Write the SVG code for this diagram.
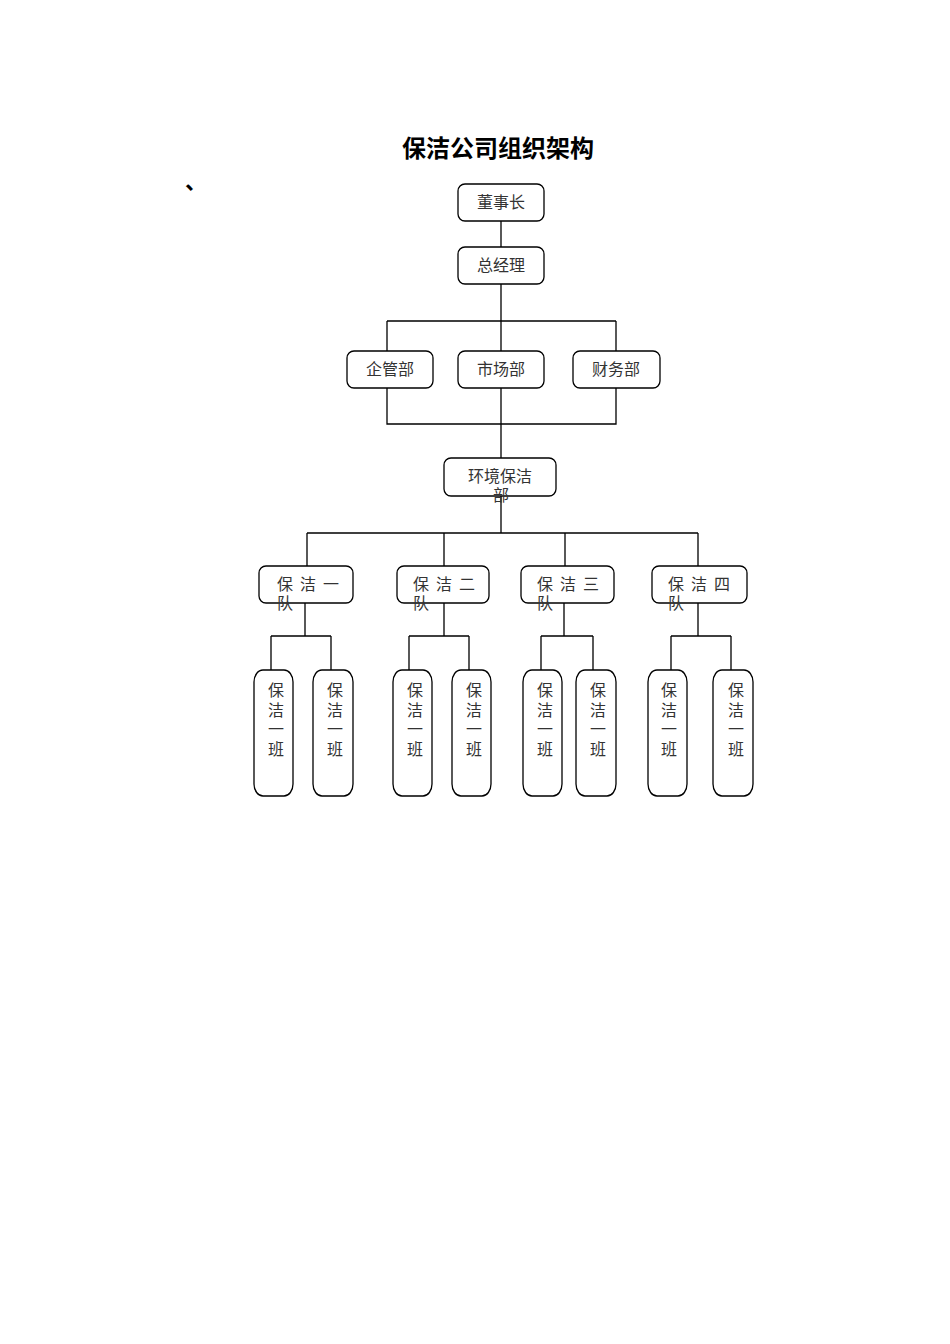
<svg xmlns="http://www.w3.org/2000/svg" width="950" height="1344" viewBox="0 0 950 1344">
<style>
.bg{fill:#fff}
.box{fill:#fff;stroke:#000;stroke-width:1.3}
.ln{fill:none;stroke:#000;stroke-width:1.3}
.t{font-family:"Noto Sans CJK SC","Liberation Sans",sans-serif;font-size:16px;fill:#333}
.c{text-anchor:middle}
.title{font-family:"Noto Sans CJK SC","Liberation Sans",sans-serif;font-size:24px;font-weight:bold;fill:#000;text-anchor:middle}
</style>
<rect class="bg" x="0" y="0" width="950" height="1344"/>
<text class="title" x="498" y="157">保洁公司组织架构</text>
<text x="185" y="189" style="font-family:'Noto Sans CJK SC',sans-serif;font-size:22px;font-weight:bold;fill:#000">、</text>
<g id="connectors">
<path class="ln" d="M501 221V247M501 284V458M387 321H616M387 321V351M616 321V351M387 388V424H616V388M501 496V533M307 533H698M307 533V566M444 533V566M565 533V566M698 533V566"/>
<path class="ln" d="M305 603V636M271 636H331M271 636V670M331 636V670"/>
<path class="ln" d="M444 603V636M409 636H469M409 636V670M469 636V670"/>
<path class="ln" d="M564 603V636M541 636H593M541 636V670M593 636V670"/>
<path class="ln" d="M698 603V636M671 636H731M671 636V670M731 636V670"/>
</g>
<g id="n-chairman"><rect class="box" x="458" y="184" width="86" height="37" rx="7"/><text class="t c" x="501" y="208">董事长</text></g>
<g id="n-gm"><rect class="box" x="458" y="247" width="86" height="37" rx="7"/><text class="t c" x="501" y="271">总经理</text></g>
<g id="n-qg"><rect class="box" x="347" y="351" width="86" height="37" rx="7"/><text class="t c" x="390" y="375">企管部</text></g>
<g id="n-sc"><rect class="box" x="458" y="351" width="86" height="37" rx="7"/><text class="t c" x="501" y="375">市场部</text></g>
<g id="n-cw"><rect class="box" x="573" y="351" width="87" height="37" rx="7"/><text class="t c" x="616" y="375">财务部</text></g>
<g id="n-env"><rect class="box" x="444" y="458" width="112" height="38" rx="7"/><text class="t c" x="500" y="482">环境保洁</text><text class="t c" x="501" y="501">部</text></g>
<g id="n-team1"><rect class="box" x="259" y="566" width="94" height="37" rx="7"/><text class="t" x="277" y="590" letter-spacing="7">保洁一</text><text class="t" x="277" y="609">队</text></g>
<g id="n-team2"><rect class="box" x="397" y="566" width="92" height="37" rx="7"/><text class="t" x="413" y="590" letter-spacing="7">保洁二</text><text class="t" x="413" y="609">队</text></g>
<g id="n-team3"><rect class="box" x="521" y="566" width="93" height="37" rx="7"/><text class="t" x="537" y="590" letter-spacing="7">保洁三</text><text class="t" x="537" y="609">队</text></g>
<g id="n-team4"><rect class="box" x="652" y="566" width="95" height="37" rx="7"/><text class="t" x="668" y="590" letter-spacing="7">保洁四</text><text class="t" x="668" y="609">队</text></g>
<g id="n-class1"><rect class="box" x="254" y="670" width="39" height="126" rx="9" ry="12"/><text class="t c" x="276"><tspan x="276" y="696">保</tspan><tspan x="276" y="715.5">洁</tspan><tspan x="276" y="735">一</tspan><tspan x="276" y="754.5">班</tspan></text></g>
<g id="n-class2"><rect class="box" x="313" y="670" width="40" height="126" rx="9" ry="12"/><text class="t c" x="335"><tspan x="335" y="696">保</tspan><tspan x="335" y="715.5">洁</tspan><tspan x="335" y="735">一</tspan><tspan x="335" y="754.5">班</tspan></text></g>
<g id="n-class3"><rect class="box" x="393" y="670" width="39" height="126" rx="9" ry="12"/><text class="t c" x="415"><tspan x="415" y="696">保</tspan><tspan x="415" y="715.5">洁</tspan><tspan x="415" y="735">一</tspan><tspan x="415" y="754.5">班</tspan></text></g>
<g id="n-class4"><rect class="box" x="452" y="670" width="39" height="126" rx="9" ry="12"/><text class="t c" x="474"><tspan x="474" y="696">保</tspan><tspan x="474" y="715.5">洁</tspan><tspan x="474" y="735">一</tspan><tspan x="474" y="754.5">班</tspan></text></g>
<g id="n-class5"><rect class="box" x="523" y="670" width="39" height="126" rx="9" ry="12"/><text class="t c" x="545"><tspan x="545" y="696">保</tspan><tspan x="545" y="715.5">洁</tspan><tspan x="545" y="735">一</tspan><tspan x="545" y="754.5">班</tspan></text></g>
<g id="n-class6"><rect class="box" x="576" y="670" width="40" height="126" rx="9" ry="12"/><text class="t c" x="598"><tspan x="598" y="696">保</tspan><tspan x="598" y="715.5">洁</tspan><tspan x="598" y="735">一</tspan><tspan x="598" y="754.5">班</tspan></text></g>
<g id="n-class7"><rect class="box" x="648" y="670" width="39" height="126" rx="9" ry="12"/><text class="t c" x="669"><tspan x="669" y="696">保</tspan><tspan x="669" y="715.5">洁</tspan><tspan x="669" y="735">一</tspan><tspan x="669" y="754.5">班</tspan></text></g>
<g id="n-class8"><rect class="box" x="713" y="670" width="40" height="126" rx="9" ry="12"/><text class="t c" x="736"><tspan x="736" y="696">保</tspan><tspan x="736" y="715.5">洁</tspan><tspan x="736" y="735">一</tspan><tspan x="736" y="754.5">班</tspan></text></g>
</svg>
